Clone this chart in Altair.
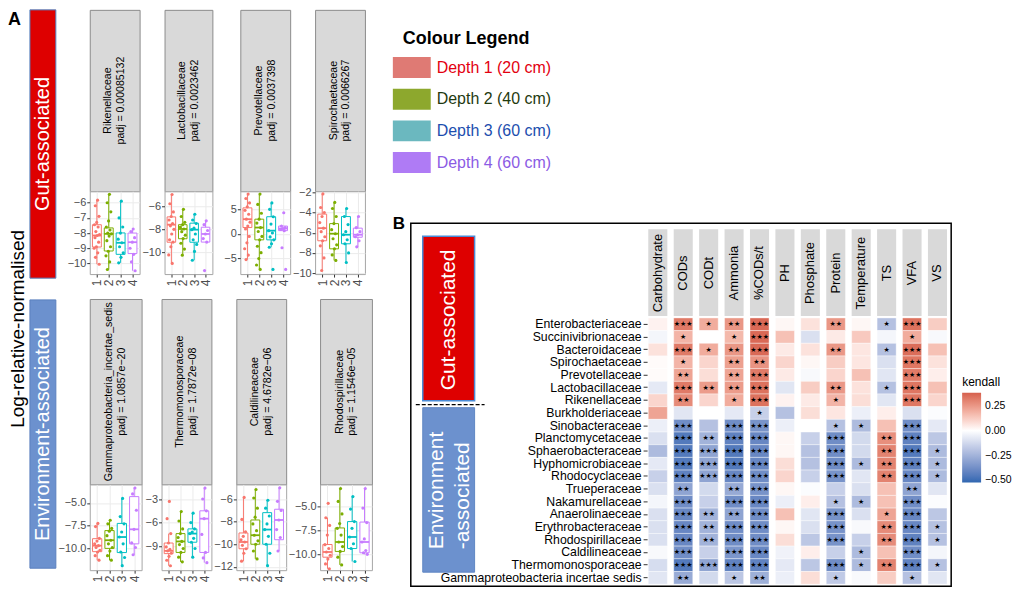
import altair as alt
import pandas as pd

FONT = "Liberation Sans"
DEPTH_GROUPS = ["1", "2", "3", "4"]
DEPTH_HUES = ["#F8766D", "#7CAE00", "#00BFC4", "#C77CFF"]

# ------------------------------------------------------------------ Panel A
# per depth group: [lower whisker, q1, median, q3, upper whisker]
rike_box = [[-10.05, -8.92, -8.16, -7.45, -5.83], [-10.4, -9.18, -8.05, -7.66, -5.45],
            [-9.96, -9.4, -8.64, -7.99, -5.9], [-10.48, -9.35, -8.6, -8.0, -7.73]]
rike_pts = [[-5.83, -6.2, -6.9, -7.3, -7.45, -7.6, -7.9, -8.1, -8.16, -8.3, -8.6, -8.9, -9.0, -9.3, -9.6, -10.05],
            [-5.45, -6.0, -6.6, -7.2, -7.6, -7.8, -8.0, -8.05, -8.2, -8.5, -8.9, -9.2, -9.5, -9.9, -10.4],
            [-5.9, -7.0, -7.6, -8.0, -8.4, -8.64, -8.9, -9.3, -9.6, -9.96],
            [-7.73, -7.9, -8.3, -8.6, -9.0, -9.4, -9.9, -10.48]]

lacto_box = [[-10.93, -9.11, -7.6, -6.93, -5.0], [-10.22, -8.81, -7.97, -7.6, -6.28],
             [-10.66, -9.11, -8.03, -7.47, -6.7], [-9.1, -9.1, -8.4, -7.82, -7.27]]
lacto_pts = [[-5.0, -5.8, -6.5, -6.9, -7.2, -7.5, -7.7, -8.0, -8.4, -8.9, -9.1, -9.5, -10.2, -10.93],
             [-6.28, -6.9, -7.4, -7.6, -7.8, -7.97, -8.2, -8.5, -8.8, -9.2, -9.7, -10.22],
             [-6.7, -7.2, -7.5, -7.9, -8.03, -8.4, -8.9, -9.3, -9.9, -10.66],
             [-7.27, -7.6, -8.1, -8.4, -8.8, -9.1, -11.55]]

prevo_box = [[-5.2, 1.3, 3.0, 5.3, 8.1], [-7.2, -1.2, 1.3, 3.0, 8.1],
             [-2.7, -1.2, 0.67, 3.5, 6.3], [0.67, 0.67, 1.1, 1.6, 1.6]]
prevo_pts = [[8.1, 7.2, 6.3, 5.5, 4.8, 4.0, 3.0, 2.4, 1.6, 1.0, -0.5, -1.8, -3.0, -4.3, -5.2],
             [8.1, 6.0, 4.2, 3.0, 2.2, 1.3, 0.5, -0.5, -1.2, -2.5, -3.8, -5.0, -6.3, -7.2],
             [6.3, 5.0, 3.5, 2.0, 0.67, 0.2, -0.6, -1.2, -2.0, -2.7, -7.2],
             [4.3, 1.6, 1.3, 1.1, 0.9, 0.67, -2.8, -7.2]]

spiro_box = [[-9.75, -6.8, -5.55, -4.16, -2.16], [-8.75, -7.6, -6.1, -5.1, -3.0],
             [-8.95, -7.1, -6.2, -4.4, -3.6], [-7.4, -6.45, -6.2, -5.55, -4.4]]
spiro_pts = [[-2.16, -3.5, -4.0, -4.4, -5.0, -5.55, -5.9, -6.4, -6.8, -7.3, -8.5, -9.75],
             [-3.0, -3.6, -4.4, -5.1, -5.7, -6.1, -6.6, -7.2, -7.6, -8.2, -8.75],
             [-3.6, -4.4, -5.2, -5.9, -6.2, -6.7, -7.1, -8.0, -8.95],
             [-4.4, -5.5, -5.9, -6.2, -6.4, -6.8, -7.4]]

gamma_box = [[-11.3, -10.36, -9.7, -8.93, -7.25], [-11.3, -10.0, -9.1, -8.04, -6.9],
             [-11.9, -10.46, -8.75, -7.25, -4.5], [-10.7, -9.5, -7.9, -4.3, -3.35]]
gamma_pts = [[-7.25, -7.6, -8.9, -9.2, -9.5, -9.7, -9.9, -10.2, -10.4, -10.8, -11.3],
             [-6.9, -7.3, -7.8, -8.1, -8.6, -9.1, -9.5, -9.9, -10.3, -10.8, -11.3],
             [-4.5, -6.5, -7.3, -8.2, -8.75, -9.5, -10.4, -11.0, -11.9],
             [-3.35, -4.0, -5.8, -7.9, -9.4, -9.9, -10.7]]

thermo_box = [[-11.5, -9.95, -9.6, -8.6, -7.4], [-11.0, -9.8, -8.4, -7.4, -4.6],
              [-10.4, -8.5, -7.4, -6.8, -4.8], [-11.1, -9.8, -5.5, -4.5, -1.6]]
thermo_pts = [[-3.3, -5.5, -7.4, -8.6, -9.1, -9.4, -9.6, -9.9, -10.3, -10.8, -11.5],
              [-4.6, -5.8, -6.8, -7.4, -7.9, -8.4, -8.8, -9.3, -9.8, -10.4, -11.0],
              [-4.8, -6.0, -6.8, -7.2, -7.4, -8.0, -8.5, -9.3, -10.4],
              [-1.6, -3.0, -4.5, -5.5, -7.5, -9.8, -10.5, -11.1]]

caldi_box = [[-11.5, -10.4, -9.8, -9.0, -5.85], [-11.3, -10.0, -9.2, -7.85, -5.15],
             [-11.9, -10.0, -8.7, -7.2, -6.1], [-10.6, -9.6, -7.85, -6.9, -5.0]]
caldi_pts = [[-5.85, -7.8, -8.9, -9.3, -9.6, -9.8, -10.1, -10.4, -10.8, -11.5],
             [-5.15, -5.9, -6.8, -7.6, -8.2, -8.8, -9.2, -9.7, -10.0, -10.6, -11.3],
             [-6.1, -6.8, -7.5, -8.2, -8.7, -9.3, -10.0, -10.8, -11.9],
             [-5.0, -6.2, -7.0, -7.85, -8.7, -9.4, -10.6]]

rhodo_box = [[-11.5, -10.3, -9.76, -8.98, -6.2], [-11.1, -9.7, -8.72, -7.26, -3.17],
             [-10.75, -9.4, -8.2, -6.6, -4.0], [-10.0, -9.84, -8.72, -6.65, -3.17]]
rhodo_pts = [[-4.7, -6.2, -7.0, -8.0, -9.0, -9.4, -9.76, -10.1, -10.5, -11.0, -11.5],
             [-3.17, -4.5, -5.8, -6.8, -7.3, -8.0, -8.72, -9.2, -9.7, -10.3, -11.1],
             [-4.0, -5.3, -6.6, -7.3, -8.2, -8.9, -9.4, -10.75],
             [-3.17, -5.2, -6.7, -8.4, -8.72, -9.6, -9.84, -10.0]]

top_names = ["Rikenellaceae", "Lactobacillaceae", "Prevotellaceae", "Spirochaetaceae"]
top_padj = ["padj = 0.00085132", "padj = 0.0023462", "padj = 0.0037398", "padj = 0.0066267"]
bottom_names = ["Gammaproteobacteria_incertae_sedis", "Thermomonosporaceae", "Caldilineaceae",
                "Rhodospirillaceae"]
bottom_padj = ["padj = 1.0857e\u221220", "padj = 1.7872e\u221208", "padj = 4.6782e\u221206",
               "padj = 1.1546e\u221205"]
top_domains = [[-10.7, -5.25], [-11.85, -4.73], [-8.15, 8.66], [-10.1, -1.9]]
top_ticks = [[-10, -9, -8, -7, -6], [-10, -8, -6], [-5, 0, 5], [-10, -8, -6, -4, -2]]
bottom_domains = [[-12.4, -2.96], [-12.06, -1.14], [-12.3, -4.7], [-11.65, -2.74]]
bottom_ticks = [[-10, -7.5, -5], [-9, -6, -3], [-12, -10, -8, -6], [-10, -7.5, -5]]
bottom_formats = [".1f", "d", "d", ".1f"]

# ------------------------------------------------------------------ Legend
depth_labels = ["Depth 1 (20 cm)", "Depth 2 (40 cm)", "Depth 3 (60 cm)", "Depth 4 (60 cm)"]
swatch_colors = ["#DF7A74", "#8DA82D", "#6BB8BF", "#AF7BF5"]
label_colors = ["#E3000F", "#1F3A0F", "#1C4EAE", "#8B5BE4"]

# ------------------------------------------------------------------ Panel B
families = ["Enterobacteriaceae", "Succinivibrionaceae", "Bacteroidaceae", "Spirochaetaceae",
            "Prevotellaceae", "Lactobacillaceae", "Rikenellaceae", "Burkholderiaceae",
            "Sinobacteraceae", "Planctomycetaceae", "Sphaerobacteraceae", "Hyphomicrobiaceae",
            "Rhodocyclaceae", "Trueperaceae", "Nakamurellaceae", "Anaerolinaeceae",
            "Erythrobacteraceae", "Rhodospirillaceae", "Caldilineaceae", "Thermomonosporaceae",
            "Gammaproteobacteria incertae sedis"]
variables = ["Carbohydrate", "CODs", "CODt", "Ammonia", "%CODs/t", "PH", "Phosphate",
             "Protein", "Temperature", "TS", "VFA", "VS"]

tau_carbohydrate = [0.03, -0.03, 0.07, 0.01, 0.01, -0.07, 0.10, 0.22, -0.05, -0.10, -0.22,
                    -0.07, -0.15, -0.10, -0.03, -0.10, -0.10, -0.10, -0.02, -0.11, -0.08]
tau_cods = [0.32, 0.18, 0.32, 0.18, 0.22, 0.32, 0.28, -0.08, -0.38, -0.45, -0.45, -0.45, -0.42,
            -0.30, -0.38, -0.40, -0.40, -0.40, -0.38, -0.45, -0.28]
tau_codt = [0.20, 0.0, 0.20, 0.10, 0.08, 0.24, 0.10, 0.0, -0.20, -0.25, -0.30, -0.30, -0.30,
            -0.12, -0.15, -0.25, -0.25, -0.25, -0.15, -0.30, -0.12]
tau_ammonia = [0.25, 0.17, 0.25, 0.23, 0.22, 0.24, 0.20, -0.07, -0.38, -0.42, -0.45, -0.45, -0.40,
               -0.28, -0.38, -0.30, -0.38, -0.38, -0.35, -0.42, -0.18]
tau_pcods = [0.36, 0.36, 0.36, 0.26, 0.32, 0.34, 0.34, -0.15, -0.36, -0.40, -0.40, -0.40, -0.38,
             -0.36, -0.40, -0.38, -0.38, -0.38, -0.40, -0.42, -0.26]
tau_ph = [0.02, 0.15, 0.05, 0.10, 0.05, -0.08, 0.03, -0.20, -0.05, 0.02, 0.02, 0.08, 0.10,
          0.02, -0.05, 0.15, 0.02, 0.08, -0.04, -0.07, -0.05]
tau_phosphate = [0.07, -0.10, 0.07, 0.02, -0.02, 0.12, 0.05, 0.08, 0.0, -0.15, -0.20, -0.20, -0.15,
                 -0.01, 0.04, -0.08, -0.10, -0.18, 0.04, -0.18, 0.08]
tau_protein = [0.25, 0.05, 0.25, 0.12, 0.10, 0.25, 0.18, 0.06, -0.20, -0.38, -0.38, -0.38, -0.36,
               -0.15, -0.20, -0.36, -0.36, -0.36, -0.15, -0.38, -0.17]
tau_temperature = [0.02, 0.13, 0.06, 0.06, 0.15, 0.07, 0.08, -0.05, -0.22, -0.12, -0.12, -0.22,
                   -0.08, -0.10, -0.22, -0.10, -0.02, -0.15, -0.22, -0.22, -0.02]
tau_ts = [-0.20, -0.03, -0.20, -0.10, -0.08, -0.20, -0.08, 0.04, 0.15, 0.27, 0.30, 0.30, 0.30,
          0.15, 0.15, 0.22, 0.28, 0.28, 0.15, 0.30, 0.12]
tau_vfa = [0.34, 0.20, 0.35, 0.33, 0.32, 0.33, 0.33, -0.10, -0.38, -0.42, -0.45, -0.42, -0.40,
           -0.30, -0.38, -0.40, -0.40, -0.42, -0.38, -0.42, -0.20]
tau_vs = [0.12, -0.02, 0.15, 0.07, 0.04, 0.15, 0.10, -0.01, -0.07, -0.18, -0.22, -0.22, -0.22,
          -0.08, -0.01, -0.18, -0.20, -0.20, -0.03, -0.20, -0.08]

sig_carbohydrate = [0] * 21
sig_cods = [3, 1, 3, 1, 2, 3, 2, 0, 3, 3, 3, 3, 3, 2, 3, 3, 3, 3, 3, 3, 2]
sig_codt = [1, 0, 1, 0, 0, 2, 0, 0, 0, 2, 3, 3, 3, 0, 0, 2, 2, 2, 0, 3, 0]
sig_ammonia = [2, 1, 2, 2, 2, 2, 1, 0, 3, 3, 3, 3, 3, 2, 3, 2, 3, 3, 3, 3, 1]
sig_pcods = [3, 3, 3, 2, 3, 3, 3, 1, 3, 3, 3, 3, 3, 3, 3, 3, 3, 3, 3, 3, 2]
sig_ph = [0] * 21
sig_phosphate = [0] * 21
sig_protein = [2, 0, 2, 0, 0, 2, 1, 0, 1, 3, 3, 3, 3, 0, 1, 3, 3, 3, 0, 3, 1]
sig_temperature = [0, 0, 0, 0, 0, 0, 0, 0, 1, 0, 0, 1, 0, 0, 1, 0, 0, 0, 1, 1, 0]
sig_ts = [1, 0, 1, 0, 0, 1, 0, 0, 0, 2, 2, 2, 2, 0, 0, 1, 2, 2, 0, 2, 0]
sig_vfa = [3, 1, 3, 3, 3, 3, 3, 0, 3, 3, 3, 3, 3, 2, 3, 3, 3, 3, 3, 3, 1]
sig_vs = [0, 0, 0, 0, 0, 0, 0, 0, 0, 0, 1, 1, 1, 0, 0, 0, 1, 1, 0, 1, 0]

tau_lists = [tau_carbohydrate, tau_cods, tau_codt, tau_ammonia, tau_pcods, tau_ph,
             tau_phosphate, tau_protein, tau_temperature, tau_ts, tau_vfa, tau_vs]
sig_lists = [sig_carbohydrate, sig_cods, sig_codt, sig_ammonia, sig_pcods, sig_ph,
             sig_phosphate, sig_protein, sig_temperature, sig_ts, sig_vfa, sig_vs]

INDEP = dict(color="independent", fill="independent", stroke="independent")


# ================================================================== builders
def header_panel(name, padj, w, h):
    df = pd.DataFrame({"name": [name], "padj": [padj]})
    base = alt.Chart(df)
    t1 = base.mark_text(angle=270, fontSize=10.6, color="black").encode(
        x=alt.value(w / 2 - 6.5), y=alt.value(h / 2), text="name:N")
    t2 = base.mark_text(angle=270, fontSize=10.6, color="black").encode(
        x=alt.value(w / 2 + 6.5), y=alt.value(h / 2), text="padj:N")
    return alt.layer(t1, t2).properties(
        width=w, height=h,
        view=alt.ViewBackground(fill="#D9D9D9", stroke="#8C8C8C", strokeWidth=1))


def box_panel(box, pts, dom, ticks, fmt, w, h, extent):
    sdf = pd.DataFrame({
        "g": [1, 2, 3, 4], "gs": DEPTH_GROUPS,
        "lo": [b[0] for b in box], "q1": [b[1] for b in box], "med": [b[2] for b in box],
        "q3": [b[3] for b in box], "hi": [b[4] for b in box]})
    pdf = pd.DataFrame([{"g": i + 1, "gs": DEPTH_GROUPS[i], "v": v}
                        for i, vals in enumerate(pts) for v in vals])
    xs = alt.Scale(domain=[0.4, 4.6], nice=False, zero=False)
    ys = alt.Scale(domain=dom, nice=False, zero=False)
    xax = alt.Axis(values=[1, 2, 3, 4], format="d", labelAngle=270, labelFontSize=12,
                   labelColor="#4D4D4D", tickColor="#333333", tickSize=3, domain=False,
                   gridColor="#EBEBEB", labelPadding=2, labelOverlap=False, labelFlush=False)
    yax = alt.Axis(values=ticks, format=fmt, labelFontSize=11, labelColor="#4D4D4D",
                   tickColor="#333333", tickSize=3, domain=False, gridColor="#EBEBEB",
                   labelPadding=1, minExtent=extent, labelOverlap=False, labelFlush=False)

    def X(f):
        return alt.X(f, scale=xs, axis=xax, title=None)

    def Y(f):
        return alt.Y(f, scale=ys, axis=yax, title=None)

    col = alt.Color("gs:N", scale=alt.Scale(domain=DEPTH_GROUPS, range=DEPTH_HUES), legend=None)
    strk = alt.Stroke("gs:N", scale=alt.Scale(domain=DEPTH_GROUPS, range=DEPTH_HUES), legend=None)
    base = alt.Chart(sdf).transform_calculate(x1="datum.g - 0.375", x2="datum.g + 0.375")
    whisker = base.mark_rule(strokeWidth=1).encode(x=X("g:Q"), y=Y("lo:Q"), y2=alt.Y2("hi"), color=col)
    boxes = base.mark_bar(fill="white", strokeWidth=1).encode(
        x=X("x1:Q"), x2=alt.X2("x2"), y=Y("q1:Q"), y2=alt.Y2("q3"), stroke=strk)
    median = base.mark_rule(strokeWidth=1.8).encode(
        x=X("x1:Q"), x2=alt.X2("x2"), y=Y("med:Q"), color=col)
    points = alt.Chart(pdf).transform_window(
        rn="row_number()", groupby=["g"]
    ).transform_calculate(
        jx="datum.g + ((datum.rn * 0.618034) % 1 - 0.5) * 0.5"
    ).mark_circle(size=10, opacity=1).encode(x=X("jx:Q"), y=Y("v:Q"), color=col)
    return alt.layer(whisker, boxes, median, points).properties(
        width=w, height=h,
        view=alt.ViewBackground(fill="white", stroke="#A6A6A6", strokeWidth=1))


def panel_row(names, padjs, boxes, pts, doms, ticks, fmts, widths, extents, strip_h, plot_h):
    cols = []
    for i in range(4):
        cols.append(alt.vconcat(
            header_panel(names[i], padjs[i], widths[i], strip_h),
            box_panel(boxes[i], pts[i], doms[i], ticks[i], fmts[i], widths[i], plot_h, extents[i]),
            spacing=0, bounds="flush"))
    return alt.hconcat(*cols, spacing=0)


row_top = panel_row(top_names, top_padj, [rike_box, lacto_box, prevo_box, spiro_box],
                    [rike_pts, lacto_pts, prevo_pts, spiro_pts], top_domains, top_ticks,
                    ["d", "d", "d", "d"], [50, 48, 50, 50], [29, 21, 26, 19], 182, 83)
row_bottom = panel_row(bottom_names, bottom_padj, [gamma_box, thermo_box, caldi_box, rhodo_box],
                       [gamma_pts, thermo_pts, caldi_pts, rhodo_pts], bottom_domains,
                       bottom_ticks, bottom_formats, [52, 50, 50, 52], [29, 18, 20, 30], 186, 86)

# side strip of panel A
side_groups = ["Gut-associated", "Environment-associated"]
side_df = pd.DataFrame({"grp": side_groups})
side_y = alt.Y("grp:N", scale=alt.Scale(domain=side_groups, paddingInner=0.075, paddingOuter=0),
               axis=None)
side_boxes = alt.Chart(side_df).mark_rect(strokeWidth=1).encode(
    y=side_y, x=alt.value(22), x2=alt.value(48),
    fill=alt.Fill("grp:N", scale=alt.Scale(domain=side_groups, range=["#DE0000", "#6C91CE"]),
                  legend=None),
    stroke=alt.Stroke("grp:N", scale=alt.Scale(domain=side_groups, range=["#4F86C6", "#5A80BE"]),
                      legend=None))
side_text = alt.Chart(side_df).mark_text(angle=270, color="white", fontSize=20).encode(
    y=side_y, x=alt.value(35), text="grp:N")
side_letter = alt.Chart(pd.DataFrame({"t": ["A"]})).mark_text(
    fontSize=18, fontWeight="bold", align="left", baseline="top", color="black").encode(
    x=alt.value(0), y=alt.value(1), text="t:N")
side_title = alt.Chart(pd.DataFrame({"t": ["Log-relative-normalised"]})).mark_text(
    angle=270, fontSize=19, color="black").encode(x=alt.value(10), y=alt.value(320), text="t:N")
side = alt.layer(side_boxes, side_text, side_letter, side_title).properties(width=48, height=560)

block_a = alt.hconcat(side, alt.vconcat(row_top, row_bottom, spacing=11),
                      spacing=0).resolve_scale(**INDEP)

# colour legend
leg_df = pd.DataFrame({"lab": depth_labels})
leg_y = alt.Y("lab:N", scale=alt.Scale(domain=depth_labels, range=[42, 169], paddingInner=0.34,
                                       paddingOuter=0.17), axis=None)
leg_sw = alt.Chart(leg_df).mark_rect().encode(
    y=leg_y, x=alt.value(-18), x2=alt.value(20),
    fill=alt.Fill("lab:N", scale=alt.Scale(domain=depth_labels, range=swatch_colors), legend=None))
leg_tx = alt.Chart(leg_df).mark_text(align="left", fontSize=16).encode(
    y=leg_y, x=alt.value(26), text="lab:N",
    color=alt.Color("lab:N", scale=alt.Scale(domain=depth_labels, range=label_colors), legend=None))
leg_title = alt.Chart(pd.DataFrame({"t": ["Colour Legend"]})).mark_text(
    align="left", fontSize=18, fontWeight="bold", color="black").encode(
    x=alt.value(-8), y=alt.value(29), text="t:N")
legend_chart = alt.layer(leg_sw, leg_tx, leg_title).properties(width=200, height=190)

# heatmap panel B
heat_records = []
for vi, var in enumerate(variables):
    for fi, fam in enumerate(families):
        heat_records.append({"family": fam, "variable": var, "tau": tau_lists[vi][fi],
                             "stars": "\u2605" * sig_lists[vi][fi]})
heat_df = pd.DataFrame(heat_records)
var_df = pd.DataFrame({"variable": variables})

HX = alt.X("variable:N", scale=alt.Scale(domain=variables, range=[235, 541], paddingInner=0.25,
                                         paddingOuter=0.125), axis=None)
HY = alt.Y("family:N", scale=alt.Scale(domain=families, range=[95, 362], paddingInner=0,
                                       paddingOuter=0),
           axis=alt.Axis(orient="left", offset=-237, domain=False, tickSize=4,
                         tickColor="#333333", labelFontSize=12.3, labelColor="black",
                         labelPadding=2, labelLimit=300, title=None, grid=False))

strip_rects = alt.Chart(var_df).mark_rect(fill="#D9D9D9").encode(
    x=HX, y=alt.value(6), y2=alt.value(93))
strip_text = alt.Chart(var_df).mark_text(angle=270, fontSize=13, color="black").encode(
    x=HX, y=alt.value(50), text="variable:N")
cells = alt.Chart(heat_df).mark_rect(stroke="white", strokeWidth=0.4).encode(
    x=HX, y=HY,
    color=alt.Color("tau:Q",
                    scale=alt.Scale(domain=[-0.52, 0, 0.38],
                                    range=["#2F67B1", "#FFFFFF", "#D6604D"], interpolate="lab"),
                    legend=alt.Legend(orient="none", legendX=553, legendY=154, title="kendall",
                                      titleFontSize=12, titleFontWeight="normal",
                                      titleColor="black", labelColor="black", labelFontSize=10.5,
                                      gradientLength=90, gradientThickness=19,
                                      values=[0.25, 0, -0.25, -0.5], format=".2f",
                                      direction="vertical", titlePadding=4, labelOffset=4,
                                      padding=0)))
star_text = alt.Chart(heat_df).mark_text(font="DejaVu Sans", fontSize=7, color="black").encode(
    x=HX, y=HY, text="stars:N")

one = pd.DataFrame({"k": [0]})
gut_box = alt.Chart(one).mark_rect(fill="#DE0000", stroke="#4A8BD6", strokeWidth=1.5).encode(
    x=alt.value(12), x2=alt.value(64), y=alt.value(13), y2=alt.value(178))
env_box = alt.Chart(one).mark_rect(fill="#6C91CE", stroke="#5F87C4", strokeWidth=1).encode(
    x=alt.value(12), x2=alt.value(64), y=alt.value(185), y2=alt.value(350))
divider = alt.Chart(one).mark_rule(strokeDash=[4, 2], strokeWidth=1.2, color="black").encode(
    x=alt.value(5), x2=alt.value(74), y=alt.value(182))
gut_text = alt.Chart(pd.DataFrame({"t": ["Gut-associated"]})).mark_text(
    angle=270, color="white", fontSize=21).encode(x=alt.value(38), y=alt.value(97), text="t:N")
env_text1 = alt.Chart(pd.DataFrame({"t": ["Environment"]})).mark_text(
    angle=270, color="white", fontSize=21, align="left").encode(
    x=alt.value(26), y=alt.value(327), text="t:N")
env_text2 = alt.Chart(pd.DataFrame({"t": ["-associated"]})).mark_text(
    angle=270, color="white", fontSize=21, align="left").encode(
    x=alt.value(52), y=alt.value(327), text="t:N")
b_letter = alt.Chart(pd.DataFrame({"t": ["B"]})).mark_text(
    fontSize=17, fontWeight="bold", align="left", baseline="top", color="black").encode(
    x=alt.value(-18), y=alt.value(-7), text="t:N")

panel_b = alt.layer(strip_rects, cells, star_text, strip_text, gut_box, env_box, divider,
                    gut_text, env_text1, env_text2, b_letter).properties(
    width=542, height=364, view=alt.ViewBackground(stroke="black", strokeWidth=1.5))

block_right = alt.vconcat(legend_chart, panel_b, spacing=15).resolve_scale(**INDEP)

chart = alt.hconcat(block_a, block_right, spacing=19).resolve_scale(**INDEP).properties(
    padding=0
).configure(font=FONT).configure_view(strokeWidth=0)

chart.save("out.html", embed_options={"renderer": "svg", "actions": False})
